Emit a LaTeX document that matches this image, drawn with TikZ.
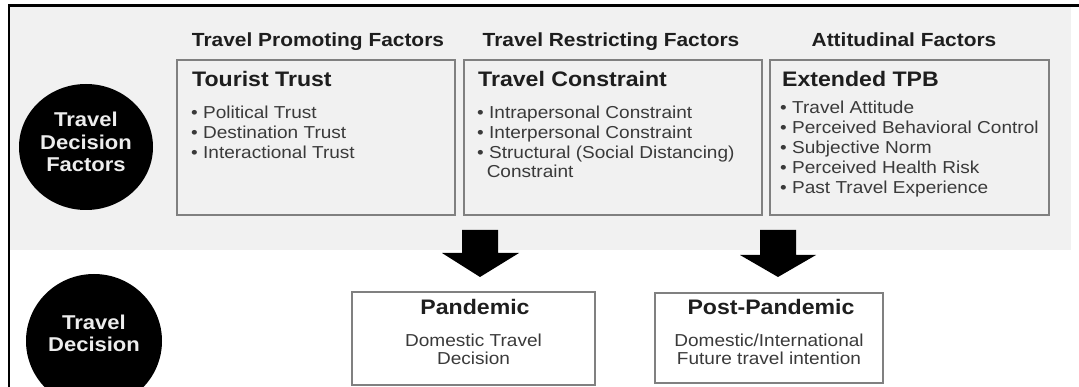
\documentclass[tikz,border=0pt]{standalone}
\usepackage{fontspec}
\setmainfont{Liberation Sans}[FakeStretch=1.1]
\usetikzlibrary{shapes.geometric}
\definecolor{band}{HTML}{F1F1F1}
\definecolor{boxline}{HTML}{808080}
\definecolor{bodytext}{HTML}{3A3A3A}
\definecolor{headtext}{HTML}{1E1E1E}
\begin{document}
\begin{tikzpicture}[x=1pt,y=-1pt,
  head/.style={font=\fontsize{19}{20}\selectfont\bfseries, text=headtext, inner sep=0, anchor=base},
  boxtitle/.style={font=\fontsize{21}{22}\selectfont\bfseries, text=headtext, inner sep=0, anchor=base west},
  outcome/.style={font=\fontsize{21}{22}\selectfont\bfseries, text=headtext, inner sep=0, anchor=base},
  item/.style={font=\fontsize{17.3}{20}\selectfont, text=bodytext, inner sep=0, anchor=base west},
  centreline/.style={font=\fontsize{17.3}{20}\selectfont, text=bodytext, inner sep=0, anchor=base},
  factorbox/.style={draw=boxline, line width=1.3pt, fill=band, rectangle, inner sep=0},
  decisionbox/.style={draw=boxline, line width=1.3pt, fill=white, rectangle, inner sep=0},
  blob/.style={ellipse, fill=black, inner sep=0},
  blobtext/.style={font=\fontsize{20}{22}\selectfont\bfseries, text=white!93!black, inner sep=0, anchor=base},
  blockarrow/.style={fill=black}]
\useasboundingbox (0,0) rectangle (1079,387);
\fill[white] (0,0) rectangle (1079,387);
% shaded band of the decision factors
\fill[band] (10,6) rectangle (1071,250);
% frame
\draw[line width=2.6pt] (9,387) -- (9,5.5) -- (1079,5.5);

% circles
\node[blob, minimum width=134pt, minimum height=126pt] (tdf) at (86,147) {};
\node[blobtext] (tdf1) at (86,127) {Travel};
\node[blobtext] (tdf2) at (86,150) {Decision};
\node[blobtext] (tdf3) at (86,172) {Factors};

\node[blob, minimum width=136pt, minimum height=134pt] (td) at (94,341) {};
\node[blobtext] (td1) at (94,330) {Travel};
\node[blobtext] (td2) at (94,352) {Decision};

% column headings
\node[head] (h1) at (318,47) {Travel Promoting Factors};
\node[head] (h2) at (611,47) {Travel Restricting Factors};
\node[head] (h3) at (904,47) {Attitudinal Factors};

% factor boxes
\node[factorbox, minimum width=278pt, minimum height=155pt] (trust) at (316,137.5) {};
\node[factorbox, minimum width=298pt, minimum height=155pt] (constr) at (613,137.5) {};
\node[factorbox, minimum width=279pt, minimum height=155pt] (tpb) at (909.5,137.5) {};

\node[boxtitle] (trustT) at (192,87) {Tourist Trust};
\foreach \t [count=\i] in {Political Trust, Destination Trust, Interactional Trust}
  \node[item] (trust-\i) at (191,99+20*\i) {• \t};

\node[boxtitle] (constrT) at (478,87) {Travel Constraint};
\foreach \t [count=\i] in {Intrapersonal Constraint, Interpersonal Constraint, Structural (Social Distancing)}
  \node[item] (constr-\i) at (477,99+20*\i) {• \t};
\node[item] (constr-4) at (477,178) {\phantom{•}\,Constraint};

\node[boxtitle] (tpbT) at (782,87) {Extended TPB};
\foreach \t [count=\i] in {Travel Attitude, Perceived Behavioral Control, Subjective Norm, Perceived Health Risk, Past Travel Experience}
  \node[item] (tpb-\i) at (780,94+20*\i) {• \t};

% decision boxes
\node[decisionbox, minimum width=243pt, minimum height=93pt] (pan) at (473.5,338.5) {};
\node[outcome] (panT) at (475,315) {Pandemic};
\node[centreline] (pan1) at (473.5,346) {Domestic Travel};
\node[centreline] (pan2) at (473.5,364) {Decision};

\node[decisionbox, minimum width=228pt, minimum height=90pt] (post) at (769,338) {};
\node[outcome] (postT) at (771,315) {Post-Pandemic};
\node[centreline] (post1) at (769,346) {Domestic/International};
\node[centreline] (post2) at (769,364) {Future travel intention};

% block arrows from the factors down to the decisions
\coordinate (a1) at (480,230);
\coordinate (a2) at (778,230);
\fill[blockarrow] (a1) ++(-18,0) -- ++(0,23) -- ++(-20,0) -- (480,277) -- ++(39,-24) -- ++(-21,0) -- ++(0,-23) -- cycle;
\fill[blockarrow] (a2) ++(-18,0) -- ++(0,25) -- ++(-20,0) -- (778,277) -- ++(38,-22) -- ++(-20,0) -- ++(0,-25) -- cycle;
\end{tikzpicture}
\end{document}
